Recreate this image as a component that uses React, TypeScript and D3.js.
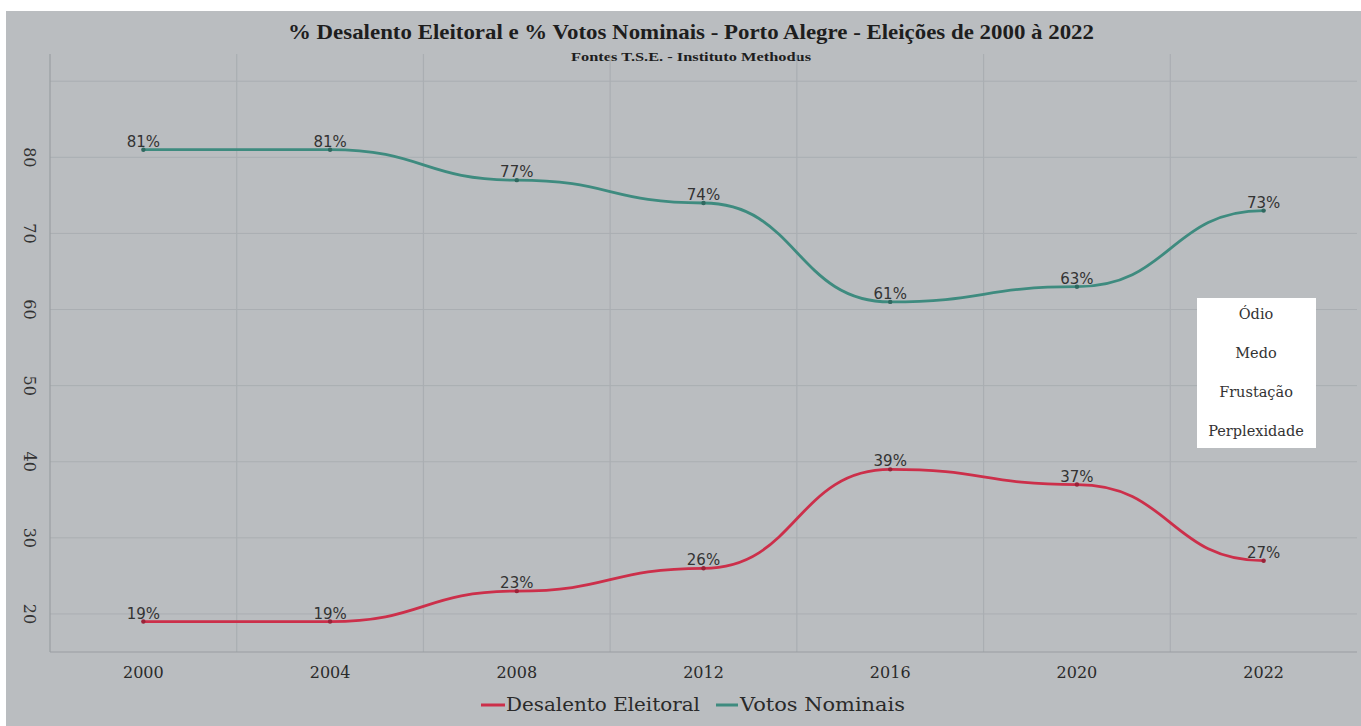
import React from "react";
import * as d3 from "d3";

const years = ["2000", "2004", "2008", "2012", "2016", "2020", "2022"];
const desalento = [19, 19, 23, 26, 39, 37, 27];
const votos = [81, 81, 77, 74, 61, 63, 73];
const yTicks = [20, 30, 40, 50, 60, 70, 80];
const yGrid = [20, 30, 40, 50, 60, 70, 80, 90];
const boxWords = ["Ódio", "Medo", "Frustação", "Perplexidade"];
const title = "% Desalento Eleitoral  e % Votos Nominais - Porto Alegre -  Eleições de 2000 à 2022";
const subtitle = "Fontes T.S.E. - Instituto Methodus";

const W = 1361;
const H = 726;
const left = 50, right = 1357, top = 66, bottom = 652;
const RED = "#cc2f4a";
const TEAL = "#3e8b7f";
const BG = "#babdc0";
const GRID = "#aaaeb2";
const SERIF = "'DejaVu Serif', serif";

export default function App() {
  const x = d3.scaleBand<string>().domain(years).range([left, right]).paddingInner(0).paddingOuter(0);
  const cx = (d: string) => (x(d) as number) + x.bandwidth() / 2;
  const y = d3.scaleLinear().domain([15, 92]).range([bottom, top]);
  const line = d3
    .line<number>()
    .x((_, i) => cx(years[i]))
    .y((v) => y(v))
    .curve(d3.curveBumpX);

  const series = [
    { name: "Desalento Eleitoral", values: desalento, color: RED },
    { name: "Votos Nominais", values: votos, color: TEAL },
  ];

  const boundaries = years.slice(1).map((d) => x(d) as number);

  return (
    <svg width={W} height={H} style={{ position: "absolute", left: 0, top: 0 }}>
      <rect x={0} y={0} width={W} height={H} fill="#ffffff" />
      <rect x={6} y={11} width={W - 6} height={H - 11} fill={BG} />
      <text x={691} y={39} textAnchor="middle" fontFamily="'Liberation Serif', serif" fontWeight="bold" fontSize={21} fill="#1e1e1e" textLength={806} lengthAdjust="spacingAndGlyphs">
        {title}
      </text>
      <text x={691} y={61} textAnchor="middle" fontFamily="'Liberation Serif', serif" fontWeight="bold" fontSize={13} fill="#1e1e1e" textLength={240} lengthAdjust="spacingAndGlyphs">
        {subtitle}
      </text>

      {yGrid.map((t) => (
        <line key={"h" + t} x1={left} x2={right} y1={y(t)} y2={y(t)} stroke={GRID} strokeWidth={1} />
      ))}
      {boundaries.map((b, i) => (
        <line key={"v" + i} x1={b} x2={b} y1={top - 12} y2={bottom} stroke={GRID} strokeWidth={1.2} />
      ))}
      <line x1={left} x2={left} y1={top - 12} y2={bottom} stroke="#9a9ea2" strokeWidth={1.2} />
      <line x1={left} x2={right} y1={bottom} y2={bottom} stroke="#9a9ea2" strokeWidth={1.2} />

      {yTicks.map((t) => (
        <text
          key={"yt" + t}
          transform={`translate(${29},${y(t)}) rotate(90)`}
          textAnchor="middle"
          dominantBaseline="central"
          fontFamily={SERIF}
          fontSize={16}
          fill="#333"
        >
          {t}
        </text>
      ))}
      {years.map((d) => (
        <text key={"xt" + d} x={cx(d)} y={678} textAnchor="middle" fontFamily={SERIF} fontSize={16} fill="#2a2a2a">
          {d}
        </text>
      ))}

      {series.map((s) => (
        <g key={s.name}>
          <path d={line(s.values) || ""} fill="none" stroke={s.color} strokeWidth={2.8} />
          {s.values.map((v, i) => (
            <circle key={i} cx={cx(years[i])} cy={y(v)} r={2.2} fill={d3.color(s.color)!.darker(0.8).toString()} />
          ))}
          {s.values.map((v, i) => (
            <text
              key={"l" + i}
              x={cx(years[i])}
              y={y(v) - 3}
              textAnchor="middle"
              fontFamily="'DejaVu Sans', sans-serif"
              fontSize={15}
              fill="#333"
            >
              {v}%
            </text>
          ))}
        </g>
      ))}

      <rect x={1197} y={298} width={119} height={150} fill="#ffffff" />
      {boxWords.map((w, i) => (
        <text key={w} x={1256} y={319 + i * 39} textAnchor="middle" fontFamily={SERIF} fontSize={14.5} fill="#333">
          {w}
        </text>
      ))}

      <g fontFamily={SERIF} fontSize={18} fill="#2a2a2a">
        <line x1={481} x2={505} y1={705} y2={705} stroke={RED} strokeWidth={3} />
        <text x={506} y={711} textLength={194} lengthAdjust="spacingAndGlyphs">Desalento Eleitoral</text>
        <line x1={716} x2={738} y1={705} y2={705} stroke={TEAL} strokeWidth={3} />
        <text x={740} y={711} textLength={165} lengthAdjust="spacingAndGlyphs">Votos Nominais</text>
      </g>
    </svg>
  );
}
